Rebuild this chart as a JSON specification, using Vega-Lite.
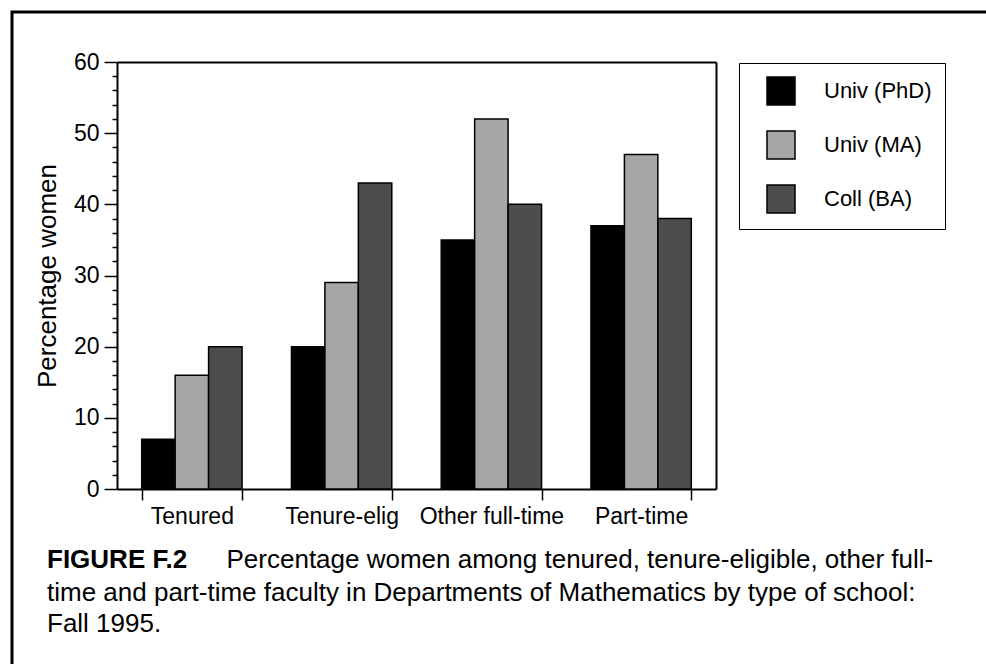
{
  "$schema": "https://vega.github.io/schema/vega-lite/v6.json",
  "autosize": "none",
  "width": 980,
  "height": 660,
  "padding": {"left": 12, "top": 12, "right": 0, "bottom": 0},
  "background": "white",
  "config": {
    "font": "Liberation Sans",
    "view": {"stroke": "black", "strokeWidth": 3},
    "axis": {"domainColor": "black", "tickColor": "black", "labelColor": "black", "titleColor": "black", "grid": false, "labelFont": "Liberation Sans", "titleFont": "Liberation Sans"}
  },
  "title": {
    "text": "FIGURE F.2",
    "subtitle": [
      "time and part-time faculty in Departments of Mathematics by type of school:",
      "Fall 1995."
    ],
    "orient": "bottom",
    "anchor": "start",
    "frame": "group",
    "offset": -125,
    "dx": 35,
    "font": "Liberation Sans",
    "fontSize": 26,
    "fontWeight": "bold",
    "color": "black",
    "subtitleFont": "Liberation Sans",
    "subtitleFontSize": 26,
    "subtitleFontWeight": "normal",
    "subtitleColor": "black",
    "subtitlePadding": 7,
    "subtitleLineHeight": 31
  },
  "data": {
    "values": [
      {"category": "Tenured", "school": "Univ (PhD)", "pct": 7},
      {"category": "Tenured", "school": "Univ (MA)", "pct": 16},
      {"category": "Tenured", "school": "Coll (BA)", "pct": 20},
      {"category": "Tenure-elig", "school": "Univ (PhD)", "pct": 20},
      {"category": "Tenure-elig", "school": "Univ (MA)", "pct": 29},
      {"category": "Tenure-elig", "school": "Coll (BA)", "pct": 43},
      {"category": "Other full-time", "school": "Univ (PhD)", "pct": 35},
      {"category": "Other full-time", "school": "Univ (MA)", "pct": 52},
      {"category": "Other full-time", "school": "Coll (BA)", "pct": 40},
      {"category": "Part-time", "school": "Univ (PhD)", "pct": 37},
      {"category": "Part-time", "school": "Univ (MA)", "pct": 47},
      {"category": "Part-time", "school": "Coll (BA)", "pct": 38}
    ]
  },
  "layer": [
    {
      "mark": {"type": "bar", "stroke": "black", "strokeWidth": 1.5},
      "encoding": {
        "x": {
          "field": "category",
          "type": "nominal",
          "sort": ["Tenured", "Tenure-elig", "Other full-time", "Part-time"],
          "scale": {"range": [105, 704], "paddingInner": 0.33, "paddingOuter": 0.165},
          "axis": {
            "orient": "bottom",
            "offset": -183,
            "title": "Percentage women among tenured, tenure-eligible, other full-",
            "titleX": 214,
            "titleY": 78,
            "titleAlign": "left",
            "titleBaseline": "alphabetic",
            "titleFontSize": 26,
            "titleFontWeight": "normal",
            "labelAngle": 0,
            "labelFontSize": 23,
            "labelPadding": 5,
            "tickBand": "extent",
            "tickSize": 11,
            "tickWidth": 1.5,
            "domainWidth": 2
          }
        },
        "xOffset": {
          "field": "school",
          "type": "nominal",
          "sort": ["Univ (PhD)", "Univ (MA)", "Coll (BA)"]
        },
        "y": {
          "field": "pct",
          "type": "quantitative",
          "scale": {"domain": [0, 60], "range": [477, 50], "nice": false, "zero": true},
          "axis": {
            "orient": "left",
            "offset": -105,
            "title": "Percentage women",
            "titleFontSize": 26,
            "titleFontWeight": "normal",
            "titlePadding": 13,
            "values": [0, 2, 4, 6, 8, 10, 12, 14, 16, 18, 20, 22, 24, 26, 28, 30, 32, 34, 36, 38, 40, 42, 44, 46, 48, 50, 52, 54, 56, 58, 60],
            "labelExpr": "datum.value % 10 === 0 ? datum.label : ''",
            "labelFontSize": 23,
            "labelPadding": 5,
            "tickSize": {"condition": {"test": "datum.value % 10 === 0", "value": 13}, "value": 5},
            "tickWidth": 1.5,
            "domainWidth": 2
          }
        },
        "color": {
          "field": "school",
          "type": "nominal",
          "sort": ["Univ (PhD)", "Univ (MA)", "Coll (BA)"],
          "scale": {"domain": ["Univ (PhD)", "Univ (MA)", "Coll (BA)"], "range": ["#000000", "#a6a6a6", "#4d4d4d"]},
          "legend": {
            "orient": "none",
            "legendX": 727,
            "legendY": 51,
            "title": null,
            "strokeColor": "black",
            "fillColor": "white",
            "padding": 13,
            "symbolType": "square",
            "symbolSize": 784,
            "symbolStrokeColor": "black",
            "symbolStrokeWidth": 1.5,
            "symbolOpacity": 1,
            "symbolOffset": 14,
            "labelOffset": 28,
            "labelFontSize": 22,
            "labelColor": "black",
            "labelFont": "Liberation Sans",
            "rowPadding": 20,
            "labelExpr": "datum.label + '\\u2002\\u2009'"
          }
        }
      }
    },
    {
      "mark": {"type": "bar", "opacity": 0},
      "encoding": {
        "x": {
          "field": "category",
          "type": "nominal",
          "sort": ["Tenured", "Tenure-elig", "Other full-time", "Part-time"],
          "axis": {"orient": "top", "offset": -50, "title": null, "labels": false, "ticks": false, "domainWidth": 2}
        },
        "y": {
          "field": "pct",
          "type": "quantitative",
          "axis": {"orient": "right", "offset": -276, "title": null, "labels": false, "ticks": false, "domainWidth": 2}
        }
      }
    }
  ],
  "resolve": {"axis": {"x": "independent", "y": "independent"}}
}
